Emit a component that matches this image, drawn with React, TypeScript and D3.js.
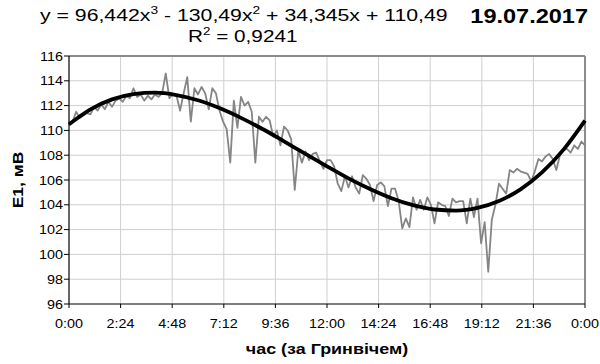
import React from 'react';
import * as d3 from 'd3';

// tick labels
const xTickLabels = ['0:00', '2:24', '4:48', '7:12', '9:36', '12:00', '14:24', '16:48', '19:12', '21:36', '0:00'];
const yTicks = [96, 98, 100, 102, 104, 106, 108, 110, 112, 114, 116];

// measured E1 (mV), one value every 10 minutes from 0:00 to 24:00
const stepMinutes = 10;
const measured = [
  110.4, 110.7, 111.5, 111.0, 111.2, 111.4, 111.3, 111.9, 111.6, 112.1,
  111.7, 112.3, 111.9, 112.4, 112.6, 112.3, 112.8, 112.6, 113.4, 112.7,
  112.9, 112.4, 112.8, 112.5, 112.9, 112.7, 113.0, 114.6, 112.6, 112.9,
  112.8, 111.6, 113.0, 114.3, 110.7, 113.4, 112.9, 113.5, 113.0, 111.7,
  113.4, 113.0, 111.6, 110.7, 110.1, 107.4, 112.4, 110.2, 112.7, 112.0,
  112.3, 111.5, 107.4, 111.1, 110.7, 111.1, 110.8, 109.5, 110.0, 108.8,
  110.3, 110.0, 109.3, 105.2, 108.4, 107.4, 108.3, 107.6, 108.1, 108.2,
  107.5, 106.9, 107.6, 107.6, 107.1, 105.7, 105.1, 106.3, 105.4, 106.3,
  105.4, 104.9, 106.4, 106.1, 105.6, 104.3, 105.6, 105.8, 105.5, 103.9,
  105.3, 105.3, 104.3, 102.1, 102.9, 102.2, 104.6, 103.6, 104.4, 103.6,
  104.6, 104.0, 102.5, 104.2, 104.0, 103.9, 103.1, 104.5, 104.2, 104.3,
  104.3, 102.5, 104.5, 103.0, 104.5, 100.9, 102.6, 98.6, 102.8, 104.0,
  105.7, 105.3, 104.9, 106.8, 106.6, 106.9, 106.7, 106.6, 106.5, 105.9,
  106.7, 107.7, 107.5, 107.9, 108.1, 107.7, 106.8, 108.0, 108.4, 108.5,
  108.2, 108.8, 108.5, 109.1, 108.8,
];

// trend line read hourly
const trendHours = [0, 1, 2, 3, 4, 5, 6, 7, 8, 9, 10, 11, 12, 13, 14, 15, 16, 17, 18, 19, 20, 21, 22, 23, 24];
const trendValues = [
  110.49, 111.7, 112.5, 112.93, 113.04, 112.85, 112.43, 111.8, 111.01, 110.11,
  109.12, 108.1, 107.1, 106.13, 105.27, 104.53, 103.97, 103.62, 103.53, 103.75,
  104.3, 105.25, 106.61, 108.45, 110.79,
];

const W = 600;
const H = 364;
const left = 69;
const right = 585;
const top = 56;
const bottom = 304;

// the original chart is stretched sideways, so text is widened with a scale
function Wide({ x, y, sx, anchor = 'start', size, bold = false, rotate = 0, children }: any) {
  return (
    <text
      transform={`translate(${x},${y}) rotate(${rotate}) scale(${sx},1)`}
      textAnchor={anchor}
      fontSize={size}
      fontWeight={bold ? 'bold' : 'normal'}
    >
      {children}
    </text>
  );
}

export default function App() {
  const x = d3.scaleLinear().domain([0, 24]).range([left, right]);
  const y = d3.scaleLinear().domain([96, 116]).range([bottom, top]);

  const xTicks = xTickLabels.map((_, i) => i * 2.4);

  const measuredPath = d3
    .line<number>()
    .x((_, i) => x((i * stepMinutes) / 60))
    .y((d) => y(d))(measured) as string;

  const trendPath = d3
    .line<number>()
    .x((_, i) => x(trendHours[i]))
    .y((d) => y(d))
    .curve(d3.curveMonotoneX)(trendValues) as string;

  const font = 'Arial, "Liberation Sans", sans-serif';

  return (
    <svg width={W} height={H} style={{ position: 'absolute', left: 0, top: 0 }} fontFamily={font}>
      <rect width={W} height={H} fill="#fff" />

      {/* grid */}
      {xTicks.slice(1, -1).map((t) => (
        <line key={'gx' + t} x1={x(t)} x2={x(t)} y1={top} y2={bottom} stroke="#cfcfcf" strokeWidth={1} />
      ))}
      {yTicks.slice(1, -1).map((v) => (
        <line key={'gy' + v} x1={left} x2={right} y1={y(v)} y2={y(v)} stroke="#cfcfcf" strokeWidth={1} />
      ))}

      {/* plot frame top and right */}
      <line x1={left} x2={right} y1={top} y2={top} stroke="#8c8c8c" strokeWidth={2} />
      <line x1={right} x2={right} y1={top} y2={bottom} stroke="#8c8c8c" strokeWidth={2} />

      {/* data */}
      <path d={measuredPath} fill="none" stroke="#858585" strokeWidth={1.8} strokeLinejoin="round" />
      <path d={trendPath} fill="none" stroke="#000" strokeWidth={3.8} strokeLinejoin="round" />

      {/* axes */}
      <line x1={left} x2={left} y1={top} y2={bottom} stroke="#000" strokeWidth={1.2} />
      <line x1={left} x2={right} y1={bottom} y2={bottom} stroke="#000" strokeWidth={1.2} />
      {yTicks.map((v) => (
        <g key={'ty' + v}>
          <line x1={left - 5} x2={left} y1={y(v)} y2={y(v)} stroke="#000" />
          <Wide x={left - 6} y={y(v) + 4.5} sx={1.15} anchor="end" size={12.5}>
            {v}
          </Wide>
        </g>
      ))}
      {xTicks.map((t, i) => (
        <g key={'tx' + i}>
          <line x1={x(t)} x2={x(t)} y1={bottom} y2={bottom + 4} stroke="#000" />
          <Wide x={x(t)} y={bottom + 24} sx={1.15} anchor="middle" size={12.5}>
            {xTickLabels[i]}
          </Wide>
        </g>
      ))}

      {/* titles */}
      <Wide x={(left + right) / 2} y={354} sx={1.28} anchor="middle" size={14} bold>
        час (за Гринвічем)
      </Wide>
      <Wide x={23} y={(top + bottom) / 2} sx={1.25} anchor="middle" size={14} bold rotate={-90}>
        E1, мВ
      </Wide>

      {/* equation */}
      <Wide x={40} y={21} sx={1.25} size={17}>
        <tspan>y = 96,442x</tspan>
        <tspan dy={-7} fontSize={11}>3</tspan>
        <tspan dy={7}> - 130,49x</tspan>
        <tspan dy={-7} fontSize={11}>2</tspan>
        <tspan dy={7}> + 34,345x + 110,49</tspan>
      </Wide>
      <Wide x={188} y={42} sx={1.22} size={17}>
        <tspan>R</tspan>
        <tspan dy={-7} fontSize={11}>2</tspan>
        <tspan dy={7}> = 0,9241</tspan>
      </Wide>
      <Wide x={588} y={23} sx={1.12} anchor="end" size={21} bold>
        19.07.2017
      </Wide>
    </svg>
  );
}
